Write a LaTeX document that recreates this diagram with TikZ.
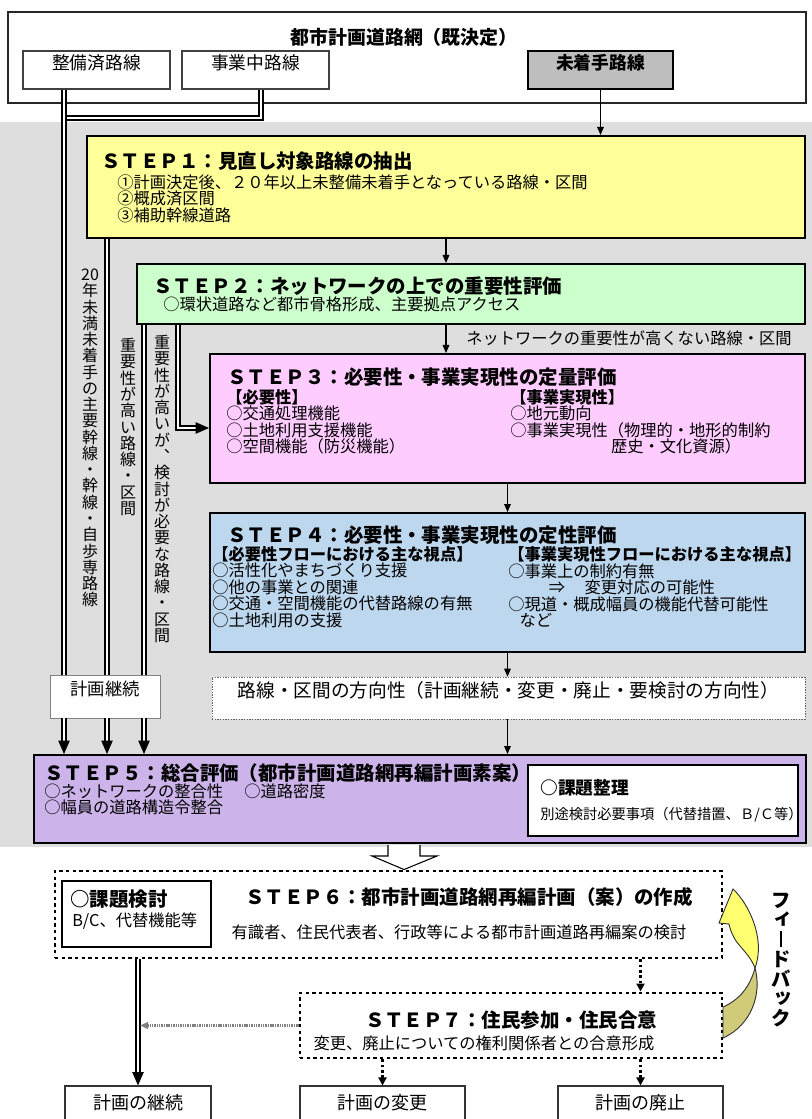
\documentclass[tikz,border=0pt]{standalone}
\usepackage{fontspec}
\setmainfont{Noto Sans CJK JP}
\usetikzlibrary{arrows.meta, calc, fit}

\definecolor{bggray}{HTML}{DEDEDE}
\definecolor{notyetgray}{HTML}{BEBEBE}
\definecolor{steponecol}{HTML}{FFFF99}
\definecolor{steptwocol}{HTML}{CCFFCC}
\definecolor{stepthreecol}{HTML}{FFCCFF}
\definecolor{stepfourcol}{HTML}{BDD7EE}
\definecolor{stepfivecol}{HTML}{CCB4EA}
\definecolor{fbyellow}{HTML}{FFFF70}
\definecolor{fbkhaki}{HTML}{CFCB78}

% small kana and long vowel mark for vertical writing
\newcommand{\tatesmall}[1]{\raisebox{0.12em}{\hspace*{0.25em}#1}}
\newcommand{\tatebar}{\raisebox{-0.02em}{\rule{0.11em}{0.85em}}}

\tikzset{
  stepbox/.style={draw=black, line width=1.5pt, inner sep=0pt},
  subbox/.style={draw=black!75, line width=0.8pt, inner sep=0pt, fill=white, font=\fontsize{13.3}{14}\selectfont},
  dotbox/.style={draw=black, line width=2.2pt, dash pattern=on 2.4pt off 2.6pt, inner sep=0pt},
  ttl/.style={inner sep=0pt, anchor=west, font=\fontsize{14.6}{15}\selectfont\bfseries},
  txt/.style={inner sep=0pt, anchor=west, align=left, font=\fontsize{12.2}{12.4}\selectfont},
  tate/.style={inner sep=0pt, align=center, font=\fontsize{12}{12.2}\selectfont},
  arr/.style={line width=0.8pt, -{Triangle[length=6pt,width=5pt]}},
  dbl/.style={line width=0.9pt, double=white, double distance=2.1pt},
  dblarr/.style={dbl, -{Triangle[length=10pt,width=8.5pt]}},
  dotarr/.style={line width=1.6pt, dash pattern=on 2pt off 2pt, -{Triangle[length=6pt,width=6pt]}},
  ribbon/.style={draw=black!80, line width=0.7pt},
}

\begin{document}
\begin{tikzpicture}[x=0.75pt, y=-0.75pt, line join=miter]
\useasboundingbox (0,0) rectangle (812,1119);
% gray band behind STEP1-5
\fill[bggray] (0,122) rectangle (812,847);

%========================
% Top: existing network
%========================
\node[draw=black!85, line width=1.8pt, fill=white, inner sep=0pt, fit={(8,12) (806,103)}] (net) {};
\node[ttl, anchor=center, font=\fontsize{14.2}{15}\selectfont\bfseries] (nettitle) at (404,37) {都市計画道路網（既決定）};
\node[subbox, fit={(23,51) (170,89)}] (done) {整備済路線};
\node[subbox, fit={(182,51) (329,89)}] (ongoing) {事業中路線};
\node[subbox, draw=black, line width=1.5pt, fill=notyetgray, font=\fontsize{13.3}{14}\selectfont\bfseries, fit={(528,51) (673,89)}] (notyet) {未着手路線};

%========================
% STEP1 - STEP4
%========================
\node[stepbox, fill=steponecol, fit={(87,136) (805,238)}] (s1) {};
\node[ttl] (s1t) at (101,161) {ＳＴＥＰ１：見直し対象路線の抽出};
\node[txt] (s1i) at (117,198.5) {①計画決定後、２０年以上未整備未着手となっている路線・区間\\②概成済区間\\③補助幹線道路};

\node[stepbox, fill=steptwocol, fit={(137,264) (805,324)}] (s2) {};
\node[ttl] (s2t) at (153,286) {ＳＴＥＰ２：ネットワークの上での重要性評価};
\node[txt] (s2i) at (163,304) {○環状道路など都市骨格形成、主要拠点アクセス};
\node[txt] (lbl) at (466,338) {ネットワークの重要性が高くない路線・区間};

\node[stepbox, fill=stepthreecol, fit={(210,354) (805,483)}] (s3) {};
\node[ttl] (s3t) at (227,377) {ＳＴＥＰ３：必要性・事業実現性の定量評価};
\node[txt] (s3l) at (226,422) {\textbf{【必要性】}\\○交通処理機能\\○土地利用支援機能\\○空間機能（防災機能）};
\node[txt] (s3r) at (510,422) {\textbf{【事業実現性】}\\○地元動向\\○事業実現性（物理的・地形的制約\\\hspace*{6.2em}歴史・文化資源）};

\node[stepbox, fill=stepfourcol, fit={(210,513) (805,652)}] (s4) {};
\node[ttl] (s4t) at (227,535) {ＳＴＥＰ４：必要性・事業実現性の定性評価};
\node[txt] (s4l) at (212,587) {\textbf{【必要性フローにおける主な視点】}\\○活性化やまちづくり支援\\○他の事業との関連\\○交通・空間機能の代替路線の有無\\○土地利用の支援};
\node[txt] (s4r) at (508,587) {\textbf{【事業実現性フローにおける主な視点】}\\○事業上の制約有無\\\hspace*{2.5em}⇒\hspace*{1.2em}変更対応の可能性\\○現道・概成幅員の機能代替可能性\\\hspace*{0.7em}など};

% direction of routes
\node[draw=black!60, line width=0.6pt, dash pattern=on 1pt off 1pt, fill=white, inner sep=0pt, font=\fontsize{14}{15}\selectfont, fit={(212,677) (805,719)}] (dir) {路線・区間の方向性（計画継続・変更・廃止・要検討の方向性）};
\node[draw=black!50, line width=0.6pt, fill=white, inner sep=0pt, font=\fontsize{13}{14}\selectfont, fit={(50,675) (160,718)}] (keep) {計画継続};

%========================
% STEP5
%========================
\node[stepbox, fill=stepfivecol, fit={(34,755) (806,843)}] (s5) {};
\node[ttl] (s5t) at (44,773) {ＳＴＥＰ５：総合評価（都市計画道路網再編計画素案）};
\node[txt] (s5i) at (44,799.5) {○ネットワークの整合性\hspace{1.3em}○道路密度\\○幅員の道路構造令整合};
\node[stepbox, fill=white, fit={(528,765) (798,836)}] (issue5) {};
\node[txt, font=\fontsize{13.3}{14}\selectfont\bfseries] (issue5t) at (540,788) {○課題整理};
\node[txt, font=\fontsize{10.7}{12}\selectfont] (issue5i) at (540,815) {別途検討必要事項（代替措置、Ｂ/Ｃ等）};

%========================
% STEP6, STEP7 and results
%========================
\node[dotbox, fit={(55,871) (722,958)}] (s6) {};
\node[stepbox, fill=white, fit={(62,881) (211,947)}] (issue6) {};
\node[txt, font=\fontsize{14.6}{15}\selectfont\bfseries] (issue6t) at (70,899) {○課題検討};
\node[txt] (issue6i) at (72,921) {B/C、代替機能等};
\node[ttl, anchor=center] (s6t) at (469,897) {ＳＴＥＰ６：都市計画道路網再編計画（案）の作成};
\node[txt, anchor=center] (s6i) at (459,932) {有識者、住民代表者、行政等による都市計画道路再編案の検討};

\node[dotbox, fit={(300,993) (722,1058)}] (s7) {};
\node[ttl, anchor=center] (s7t) at (511,1020) {ＳＴＥＰ７：住民参加・住民合意};
\node[txt, anchor=center] (s7i) at (484,1043) {変更、廃止についての権利関係者との合意形成};

\node[subbox, draw=black!80, font=\fontsize{13.5}{14}\selectfont, fit={(65,1086) (211,1135)}] (cont) {計画の継続};
\node[subbox, draw=black!80, font=\fontsize{13.5}{14}\selectfont, fit={(300,1086) (465,1135)}] (chg) {計画の変更};
\node[subbox, draw=black!80, font=\fontsize{13.5}{14}\selectfont, fit={(558,1086) (723,1135)}] (abol) {計画の廃止};

%========================
% connectors
%========================
\draw[arr] (notyet.south) -- (notyet.south |- s1.north);
\draw[arr] (s1.south) -- (s1.south |- s2.north);
\draw[arr] (s1.south |- s2.south) -- (s1.south |- s3.north);
\draw[arr] (s3.south) -- (s3.south |- s4.north);
\draw[arr] (s3.south |- s4.south) -- (s3.south |- dir.north);
\draw[arr] (s3.south |- dir.south) -- (s3.south |- s5.north);

% routes that keep their plan
\draw[dbl] (261,0 |- ongoing.south) -- (261,118) -- (64,118);
\draw[dbl] (64,0 |- done.south) -- (64,0 |- keep.north);
\draw[dbl] (107,0 |- s1.south) -- (107,0 |- keep.north);
\draw[dbl] (144,0 |- s2.south) -- (144,0 |- keep.north);
\draw[dblarr] (178,0 |- s2.south) |- (s3.west |- 0,428);
\foreach \x in {64,107,144}
  \draw[dblarr] (\x,0 |- keep.south) -- (\x,0 |- s5.north);

\node[tate] (t1) at (90,438) {20\\年\\未\\満\\未\\着\\手\\の\\主\\要\\幹\\線\\・\\幹\\線\\・\\自\\歩\\専\\路\\線};
\node[tate] (t2) at (128,427) {重\\要\\性\\が\\高\\い\\路\\線\\・\\区\\間};
\node[tate] (t3) at (162,489) {重\\要\\性\\が\\高\\い\\が\\︑\\検\\討\\が\\必\\要\\な\\路\\線\\・\\区\\間};

% hollow arrow STEP5 -> STEP6
\filldraw[fill=white, line width=0.8pt] ($(388,0 |- s5.south)+(0,1)$) -- (388,856) -- (372,856) -- (404,0 |- s6.north) -- (437,856) -- (420,856) -- ($(420,0 |- s5.south)+(0,1)$);

\draw[dotarr] (abol.north |- s6.south) -- (abol.north |- s7.north);
\draw[dotarr] (chg.north |- s7.south) -- (chg.north);
\draw[dotarr] (abol.north |- s7.south) -- (abol.north);
\draw[dblarr] (cont.north |- s6.south) -- (cont.north);
\draw[gray, line width=1.6pt, dash pattern=on 0.8pt off 0.5pt, shorten >=1.5pt, -{Triangle[length=6pt,width=5pt]}] (s7.west) -- (s7.west -| cont.north);

% feedback (twisted ribbon from STEP7 back to STEP6)
\filldraw[ribbon, fill=fbyellow] (733,889) .. controls (748,903) and (766,938) .. (755,968) .. controls (751,957) and (742,949) .. (736,941) .. controls (733,936) and (730,930) .. (729,924) -- (719,923) -- cycle;
\filldraw[ribbon, fill=fbkhaki] (755,968) .. controls (762,993) and (752,1025) .. (723,1038) -- (723,1007) .. controls (739,1000) and (750,987) .. (755,968) -- cycle;
\node[tate, font=\fontsize{14.5}{14.8}\selectfont\bfseries] (fb) at (781,960) {フ\\\tatesmall{ィ}\\\tatebar\\ド\\バ\\\tatesmall{ッ}\\ク};
\end{tikzpicture}
\end{document}
